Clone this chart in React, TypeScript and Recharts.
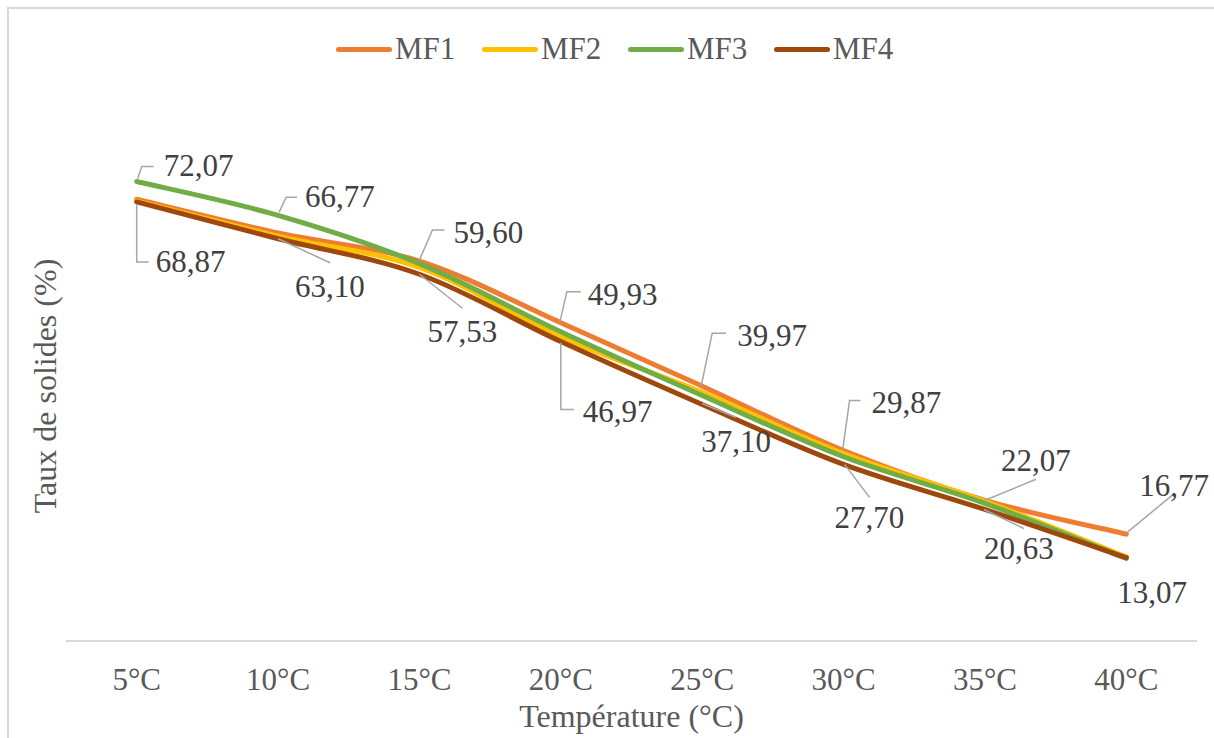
import { LineChart, Line, XAxis, YAxis, LabelList } from 'recharts';

const categories = ['5°C', '10°C', '15°C', '20°C', '25°C', '30°C', '35°C', '40°C'];
const mf1 = [69.3, 64.0, 59.6, 49.93, 39.97, 29.87, 22.07, 16.77];
const mf2 = [69.0, 63.5, 58.6, 47.7, 39.0, 29.4, 21.9, 13.2];
const mf3 = [72.07, 66.77, 59.2, 48.5, 38.5, 28.9, 21.6, 12.95];
const mf4 = [68.87, 63.1, 57.53, 46.97, 37.1, 27.7, 20.63, 13.07];

// which series carries the upper label at each temperature (lower label is always MF4)
const topLabelSeries = ['MF3', 'MF3', 'MF1', 'MF1', 'MF1', 'MF1', 'MF1', 'MF1'];

const series = [
  { key: 'MF1', color: '#ED7D31' },
  { key: 'MF2', color: '#FFC000' },
  { key: 'MF3', color: '#70AD47' },
  { key: 'MF4', color: '#9E480E' },
];

const data = categories.map((c, i) => ({
  name: c,
  MF1: mf1[i],
  MF2: mf2[i],
  MF3: mf3[i],
  MF4: mf4[i],
}));

// label placement relative to the point (text left/middle + leader line)
type LabelPos = { tx: number; ty: number; leader: number[][] };
const topPos: LabelPos[] = [
  { tx: 27, ty: -16, leader: [[1, -3], [5, -15], [17, -15]] },
  { tx: 27, ty: -19, leader: [[1, -3], [8, -18], [19, -18]] },
  { tx: 34, ty: -29, leader: [[0, -1], [13, -31], [25, -31]] },
  { tx: 27, ty: -28, leader: [[-1, 0], [6, -31], [20, -31]] },
  { tx: 35, ty: -51, leader: [[-1, 0], [10, -53], [24, -53]] },
  { tx: 28, ty: -48, leader: [[-1, 0], [6, -50], [17, -50]] },
  { tx: 16, ty: -40, leader: [[0, 0], [51, -21]] },
  { tx: 13, ty: -49, leader: [[0, -1], [46, -39]] },
];
const bottomPos: LabelPos[] = [
  { tx: 19, ty: 60, leader: [[0, 2], [0, 60], [12, 60]] },
  { tx: 17, ty: 48, leader: [[0, 0], [52, 24]] },
  { tx: 8, ty: 57, leader: [[0, 0], [43, 34]] },
  { tx: 22, ty: 70, leader: [[0, 1], [0, 68], [13, 68]] },
  { tx: -1, ty: 37, leader: [[0, -1], [34, 13]] },
  { tx: -9, ty: 53, leader: [[1, 0], [26, 33]] },
  { tx: -1, ty: 39, leader: [[-1, 0], [39, 19]] },
  { tx: -9, ty: 35, leader: [] },
];

const FONT = '"Liberation Serif", "Times New Roman", serif';
const fmt = (v: number) => Number(v).toFixed(2).replace('.', ',');

// Excel-like smoothing (Catmull-Rom as cubic beziers)
const smoothCurve = (context: any) => {
  let pts: number[][] = [];
  return {
    areaStart() {},
    areaEnd() {},
    lineStart() {
      pts = [];
    },
    point(x: number, y: number) {
      pts.push([+x, +y]);
    },
    lineEnd() {
      if (!pts.length) return;
      context.moveTo(pts[0][0], pts[0][1]);
      for (let i = 0; i < pts.length - 1; i++) {
        const p0 = pts[i - 1] || pts[i];
        const p1 = pts[i];
        const p2 = pts[i + 1];
        const p3 = pts[i + 2] || p2;
        context.bezierCurveTo(
          p1[0] + (p2[0] - p0[0]) / 6,
          p1[1] + (p2[1] - p0[1]) / 6,
          p2[0] - (p3[0] - p1[0]) / 6,
          p2[1] - (p3[1] - p1[1]) / 6,
          p2[0],
          p2[1]
        );
      }
    },
  };
};

function makeLabel(key: string) {
  return (props: any) => {
    const { x, y, index, value } = props;
    let pos: LabelPos | null = null;
    if (key === 'MF4') pos = bottomPos[index];
    if (topLabelSeries[index] === key) pos = topPos[index];
    if (!pos || x == null || y == null) return null;
    const pts = pos.leader.map(([dx, dy]) => `${x + dx},${y + dy}`).join(' ');
    return (
      <g>
        {pos.leader.length > 0 && (
          <polyline points={pts} fill="none" stroke="#A6A6A6" strokeWidth={1.5} />
        )}
        <text
          x={x + pos.tx}
          y={y + pos.ty}
          dominantBaseline="central"
          style={{ fontFamily: FONT, fontSize: 31 }}
          fill="#404040"
        >
          {fmt(value)}
        </text>
      </g>
    );
  };
}

export default function App() {
  return (
    <div
      style={{
        position: 'absolute',
        left: 0,
        top: 0,
        width: 1214,
        height: 738,
        background: '#fff',
        overflow: 'hidden',
        fontFamily: FONT,
      }}
    >
      <div
        style={{
          position: 'absolute',
          left: 7,
          top: 7,
          width: 1214,
          height: 760,
          border: '2px solid #D9D9D9',
        }}
      />
      <div
        style={{
          position: 'absolute',
          left: 336,
          top: 32,
          display: 'flex',
          fontSize: 31,
          lineHeight: '34px',
          color: '#595959',
        }}
      >
        {series.map(s => (
          <div key={s.key} style={{ width: 146, display: 'flex', alignItems: 'center' }}>
            <span
              style={{
                display: 'inline-block',
                width: 56,
                height: 5,
                borderRadius: 3,
                background: s.color,
                marginRight: 3,
              }}
            />
            <span>{s.key}</span>
          </div>
        ))}
      </div>
      <LineChart
        width={1214}
        height={738}
        data={data}
        margin={{ top: 131, right: 17, left: 0, bottom: 0 }}
        style={{ position: 'absolute', left: 0, top: 0, fontFamily: FONT }}
      >
        <XAxis
          dataKey="name"
          height={97}
          padding={{ left: 70.7, right: 70.7 }}
          axisLine={{ stroke: '#D9D9D9', strokeWidth: 2 }}
          tickLine={false}
          tickMargin={21}
          tick={{ fontSize: 31, fill: '#595959', style: { fontFamily: FONT } }}
          interval={0}
          label={{
            content: (p: any) => {
              const vb = p.viewBox || {};
              return (
                <text
                  x={vb.x + vb.width / 2}
                  y={vb.y + 86}
                  textAnchor="middle"
                  style={{ fontFamily: FONT, fontSize: 32 }}
                  fill="#595959"
                >
                  Température (°C)
                </text>
              );
            },
          }}
        />
        <YAxis
          width={66}
          domain={[0, 80]}
          tick={false}
          axisLine={false}
          tickLine={false}
          label={{
            content: (p: any) => {
              const vb = p.viewBox || {};
              const cy = vb.y + vb.height / 2;
              return (
                <text
                  x={56}
                  y={cy}
                  transform={`rotate(-90, 56, ${cy})`}
                  textAnchor="middle"
                  style={{ fontFamily: FONT, fontSize: 32 }}
                  fill="#595959"
                >
                  Taux de solides (%)
                </text>
              );
            },
          }}
        />
        {series.map(s => (
          <Line
            key={s.key}
            type={smoothCurve as any}
            dataKey={s.key}
            stroke={s.color}
            strokeWidth={5}
            strokeLinecap="round"
            dot={false}
            activeDot={false}
            isAnimationActive={false}
          >
            <LabelList dataKey={s.key} content={makeLabel(s.key)} />
          </Line>
        ))}
      </LineChart>
    </div>
  );
}
